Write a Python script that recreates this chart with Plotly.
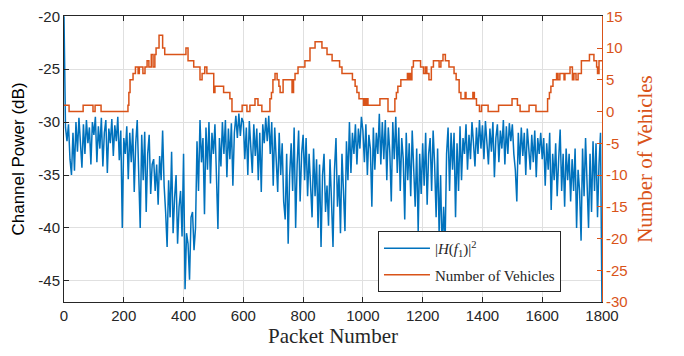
import plotly.graph_objects as go

# ---- data ----
# Channel power |H(f1)|^2 in dB, sampled every 5 packets (0..1795) plus final packet 1800
power_db = [
    -20.0, -30.5, -31.8, -30.2, -33.5, -35.0, -31.0, -34.6, -30.0, -32.8, -29.6, -31.5, -34.3, -30.2, -33.0, -29.8, -32.0, -30.5, -34.0, -30.0,
    -31.2, -29.5, -33.8, -30.4, -32.5, -29.6, -34.2, -31.0, -29.8, -34.8, -30.6, -32.0, -29.7, -33.2, -30.3, -31.8, -29.5, -33.6, -30.8, -40.0,
    -31.5, -33.0, -30.4, -35.4, -31.0, -33.8, -30.6, -36.6, -32.0, -29.8, -34.5, -40.0, -31.2, -35.5, -30.9, -38.5, -33.0, -31.2, -36.8, -34.0,
    -33.5, -36.5, -34.0, -37.8, -33.2, -35.5, -30.8, -36.0, -38.5, -41.8, -35.5, -39.0, -32.8, -40.5, -37.2, -35.0, -41.5, -38.0, -36.5, -40.8,
    -33.0, -45.8, -40.5, -41.5, -44.9, -39.0, -38.5, -42.1, -40.0, -31.8, -36.5, -29.8, -33.8, -31.5, -38.7, -30.5, -34.5, -30.0, -35.8, -31.0,
    -33.0, -30.2, -35.0, -40.1, -31.5, -34.2, -30.0, -33.0, -29.8, -35.2, -30.6, -33.5, -30.1, -36.0, -31.0, -29.4, -31.5, -29.2, -31.3, -29.6,
    -30.0, -33.5, -30.5, -35.0, -29.9, -32.5, -34.8, -30.2, -33.2, -30.6, -35.5, -31.0, -36.6, -30.2, -32.0, -29.6, -31.8, -29.4, -33.0, -30.0,
    -36.0, -30.5, -33.5, -36.6, -31.0, -35.0, -32.0, -37.5, -39.2, -33.0, -41.5, -35.0, -32.0, -36.5, -30.5, -40.0, -34.0, -30.8, -37.5, -33.0,
    -31.2, -35.5, -31.5, -37.0, -33.0, -36.0, -39.0, -32.5, -37.0, -33.5, -40.0, -34.0, -41.8, -35.0, -33.0, -38.5, -36.0, -39.8, -33.5, -37.5,
    -41.8, -34.5, -31.5, -38.0, -35.0, -40.5, -33.0, -36.5, -40.3, -31.8, -35.5, -30.0, -34.8, -31.0, -33.0, -30.2, -34.0, -30.6, -32.5, -29.5,
    -30.8, -33.8, -30.2, -35.0, -31.2, -32.5, -38.0, -30.5, -34.5, -31.0, -33.0, -29.2, -34.0, -30.0, -33.5, -29.8, -35.5, -30.5, -32.8, -37.5,
    -30.0, -33.5, -29.5, -34.8, -30.5, -36.5, -31.5, -33.5, -39.2, -31.0, -35.5, -32.0, -37.0, -30.8, -34.0, -38.0, -32.5, -40.3, -33.0, -36.8,
    -32.0, -36.0, -31.0, -37.8, -33.0, -31.5, -36.5, -30.8, -34.0, -39.0, -32.5, -40.5, -35.0, -42.5, -38.0, -41.5, -33.0, -30.5, -36.5, -31.0,
    -34.5, -31.0, -39.0, -32.0, -36.5, -30.4, -35.5, -31.5, -33.0, -30.2, -34.5, -31.2, -33.5, -30.0, -32.0, -34.2, -30.5, -33.0, -29.8, -32.5,
    -30.3, -33.5, -29.9, -32.0, -34.0, -30.6, -32.8, -30.0, -35.2, -31.5, -30.2, -33.8, -30.8, -32.5, -29.8, -34.0, -30.4, -33.0, -30.1, -31.8,
    -30.2, -33.0, -34.5, -37.5, -31.0, -34.0, -30.5, -33.2, -31.0, -35.0, -30.6, -32.5, -34.5, -31.2, -33.8, -30.8, -35.2, -31.5, -33.0, -31.0,
    -33.5, -31.5, -36.0, -32.0, -34.5, -31.0, -38.3, -33.0, -35.5, -32.0, -37.0, -33.5, -30.7, -36.5, -33.0, -38.0, -32.5, -35.5, -33.0, -37.5,
    -33.5, -36.5, -32.5, -40.0, -34.5, -36.5, -41.2, -32.5, -37.0, -31.5, -35.5, -40.0, -33.0, -38.5, -31.8, -36.5, -32.0, -39.0, -34.0, -31.0,
    -48.0,
]
power_packets = [5 * i for i in range(360)] + [1800]

# Number of vehicles: packet where count changes, and the new count
veh_packets = [
    0, 17, 64, 97, 104, 124, 214, 217, 221, 231, 239, 248, 252, 264, 271, 278, 284, 292, 298, 304,
    308, 318, 330, 337, 408, 415, 434, 455, 462, 471, 478, 501, 505, 534, 555, 562, 596, 612, 622, 639,
    649, 662, 689, 694, 699, 706, 713, 719, 723, 733, 763, 768, 773, 783, 806, 823, 840, 863, 880, 897,
    922, 930, 965, 974, 980, 987, 1002, 1007, 1010, 1014, 1017, 1057, 1084, 1107, 1112, 1117, 1127, 1149, 1154, 1158,
    1161, 1164, 1169, 1193, 1203, 1209, 1214, 1221, 1229, 1236, 1255, 1261, 1268, 1276, 1288, 1305, 1312, 1322, 1328, 1342,
    1345, 1368, 1373, 1380, 1390, 1397, 1419, 1454, 1499, 1517, 1526, 1556, 1579, 1618, 1624, 1629, 1636, 1648, 1653, 1659,
    1673, 1676, 1693, 1701, 1706, 1713, 1720, 1731, 1758, 1773, 1782, 1785, 1790, 1800,
]
veh_count = [
    1, 0, 1, 0, 1, 0, 1, 3, 5, 6, 7, 6, 7, 6, 7, 8, 7, 9, 7, 9,
    10, 12, 10, 9, 10, 8, 7, 5, 6, 7, 6, 3, 4, 3, 2, 0, 1, 0, 1, 2,
    1, 0, 2, 3, 5, 6, 5, 4, 3, 5, 3, 5, 6, 7, 8, 10, 11, 10, 9, 8,
    7, 6, 5, 4, 3, 2, 1, 2, 1, 2, 1, 2, 0, 2, 3, 4, 5, 6, 5, 6,
    5, 7, 8, 7, 6, 7, 6, 5, 7, 8, 7, 8, 9, 8, 7, 6, 5, 3, 2, 3,
    2, 3, 2, 1, 0, 1, 0, 1, 2, 1, 0, 1, 0, 2, 3, 4, 5, 6, 5, 6,
    5, 6, 7, 5, 6, 5, 6, 8, 9, 8, 7, 6, 8, 8,
]

x_ticks = [0, 200, 400, 600, 800, 1000, 1200, 1400, 1600, 1800]
y_ticks = [-45, -40, -35, -30, -25, -20]
y2_ticks = [-30, -25, -20, -15, -10, -5, 0, 5, 10, 15]

BLUE = "#0072BD"
ORANGE = "#D95319"
DARK = "#262626"
SANS = "Liberation Sans, Arial, sans-serif"
SERIF = "Liberation Serif, Times New Roman, serif"

fig = go.Figure()
fig.add_trace(go.Scatter(
    x=power_packets, y=power_db, mode="lines",
    line=dict(color=BLUE, width=1.5),
    name="|<i>H</i>(<i>f</i><sub>1</sub>)|<sup>2</sup>",
    legendgroup="a",
))
fig.add_trace(go.Scatter(
    x=veh_packets, y=veh_count, mode="lines", yaxis="y2",
    line=dict(color=ORANGE, width=1.5, shape="hv"),
    name="Number of Vehicles",
    legendgroup="b",
))

fig.update_layout(
    width=684, height=356,
    margin=dict(l=64, r=82, t=8, b=54),
    paper_bgcolor="white", plot_bgcolor="white",
    showlegend=True,
    legend=dict(
        x=0.5836, y=0.248, xanchor="left", yanchor="top",
        bgcolor="white", bordercolor=DARK, borderwidth=1,
        font=dict(family=SERIF, size=15, color=DARK),
        tracegroupgap=4, itemwidth=46,
    ),
    xaxis=dict(
        range=[0, 1800], tickvals=x_ticks, ticktext=[str(v) for v in x_ticks],
        ticks="inside", ticklen=5, ticklabeloverflow="allow",
        tickcolor=DARK, showline=True, linecolor=DARK, linewidth=1, mirror="ticks",
        showgrid=True, gridcolor="#e0e0e0", zeroline=False,
        tickfont=dict(family=SANS, size=15, color=DARK),
        title=dict(text="Packet Number", font=dict(family=SERIF, size=21, color=DARK), standoff=5),
    ),
    yaxis=dict(
        range=[-47, -19.97], tickvals=y_ticks, ticktext=[str(v) for v in y_ticks],
        ticks="inside", ticklen=5, ticklabeloverflow="allow",
        tickcolor=DARK, showline=True, linecolor=DARK, linewidth=1,
        showgrid=True, gridcolor="#e0e0e0", zeroline=False,
        tickfont=dict(family=SANS, size=15, color=DARK),
        title=dict(text="Channel Power (dB)", font=dict(family=SANS, size=17, color="black"), standoff=9),
    ),
    yaxis2=dict(
        range=[-30, 15.05], tickvals=y2_ticks, ticktext=[str(v) for v in y2_ticks],
        overlaying="y", side="right",
        ticks="inside", ticklen=5, tickcolor=ORANGE, ticklabeloverflow="allow",
        showline=True, linecolor=ORANGE, linewidth=1,
        showgrid=False, zeroline=False,
        tickfont=dict(family=SANS, size=15, color=ORANGE),
        title=dict(text="Number of Vehicles", font=dict(family=SERIF, size=21, color=ORANGE), standoff=10),
    ),
)

fig.write_html("out.html")
